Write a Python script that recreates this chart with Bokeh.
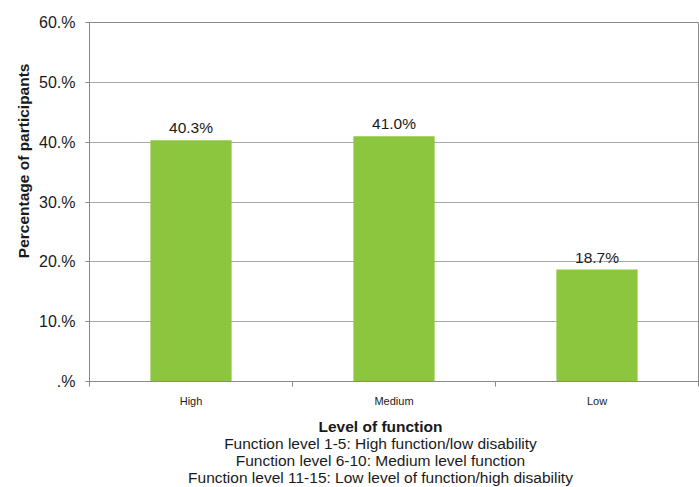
import math
from bokeh.plotting import figure
from bokeh.layouts import column, row
from bokeh.models import Range1d, FixedTicker, ColumnDataSource, LabelSet
from bokeh.core.properties import value
from bokeh.embed import file_html
from bokeh.resources import INLINE

categories = ["High", "Medium", "Low"]
values = [40.3, 41.0, 18.7]
value_labels = ["40.3%", "41.0%", "18.7%"]
y_ticks = [0, 10, 20, 30, 40, 50, 60]
y_tick_labels = [".%", "10.%", "20.%", "30.%", "40.%", "50.%", "60.%"]
x_title = "Level of function"
y_title = "Percentage of participants"
captions = [
    "Function level 1-5: High function/low disability",
    "Function level 6-10: Medium level function",
    "Function level 11-15: Low level of function/high disability",
]

FONT = "Liberation Sans"
AXIS_GRAY = "#898989"
GRID_GRAY = "#A8A8A8"
GREEN = "#8CC63F"
TEXT = "#1a1a1a"

W, H = 699, 487
LEFT_W = 36
TOP_H = 410


def blank(fig):
    fig.axis.visible = False
    fig.grid.visible = False
    fig.outline_line_color = None
    fig.background_fill_color = "white"
    fig.border_fill_color = "white"


# ---- main chart ----
xs = [i + 0.5 for i in range(len(categories))]
src = ColumnDataSource(dict(x=xs, top=values, label=value_labels))

p = figure(width=W - LEFT_W, height=TOP_H, output_backend="svg", toolbar_location=None,
           x_range=Range1d(0, len(categories)), y_range=Range1d(0, 60),
           min_border_left=86 - LEFT_W, min_border_right=1, min_border_top=22,
           min_border_bottom=TOP_H - 381)
p.background_fill_color = "white"
p.border_fill_color = "white"
p.outline_line_color = AXIS_GRAY

p.vbar(x="x", top="top", width=0.4, source=src, fill_color=GREEN, line_color=None)

p.add_layout(LabelSet(x="x", y="top", text="label", source=src, text_align="center",
                      text_baseline="bottom", y_offset=4, text_font_size="15.5px",
                      text_font=value(FONT), text_color=TEXT))

p.yaxis.ticker = FixedTicker(ticks=y_ticks)
p.yaxis.major_label_overrides = {t: l for t, l in zip(y_ticks, y_tick_labels)}
p.yaxis.major_label_text_font = FONT
p.yaxis.major_label_text_font_size = "16px"
p.yaxis.major_label_text_color = TEXT
p.yaxis.axis_line_color = AXIS_GRAY
p.yaxis.major_tick_line_color = AXIS_GRAY
p.yaxis.major_tick_in = 0
p.yaxis.major_tick_out = 4
p.yaxis.minor_tick_line_color = None
p.yaxis.major_label_standoff = 10

p.xaxis.ticker = FixedTicker(ticks=xs, minor_ticks=list(range(len(categories) + 1)))
p.xaxis.major_label_overrides = {x: c for x, c in zip(xs, categories)}
p.xaxis.major_label_text_font = FONT
p.xaxis.major_label_text_font_size = "11px"
p.xaxis.major_label_text_color = TEXT
p.xaxis.axis_line_color = AXIS_GRAY
p.xaxis.major_tick_line_color = None
p.xaxis.minor_tick_line_color = AXIS_GRAY
p.xaxis.minor_tick_in = 0
p.xaxis.minor_tick_out = 5
p.xaxis.major_label_standoff = 7

p.xgrid.grid_line_color = None
p.ygrid.ticker = FixedTicker(ticks=y_ticks)
p.ygrid.grid_line_color = GRID_GRAY

# ---- y-axis title panel (pixel coordinates, y measured upward) ----
yfig = figure(width=LEFT_W, height=TOP_H, output_backend="svg", toolbar_location=None,
              x_range=Range1d(0, LEFT_W), y_range=Range1d(0, TOP_H),
              min_border=0)
blank(yfig)
yfig.text(x=[23], y=[TOP_H - 158], text=[y_title], angle=math.pi / 2,
          text_align="center", text_baseline="middle", text_font=value(FONT),
          text_font_size="15.5px", text_font_style="bold", text_color=TEXT)

# ---- x-axis title and caption panel ----
CAP_H = H - TOP_H
SHIFT = 6.5
cap = figure(width=W, height=CAP_H, output_backend="svg", toolbar_location=None,
             x_range=Range1d(0, W), y_range=Range1d(0, CAP_H), min_border=0)
blank(cap)
cap.text(x=[380], y=[H - 432 + SHIFT], text=[x_title], text_align="center",
         text_baseline="alphabetic", text_font=value(FONT), text_font_size="15.5px",
         text_font_style="bold", text_color=TEXT)
cap_y = [H - (449 + 17.25 * i) + SHIFT for i in range(len(captions))]
cap.text(x=[380] * len(captions), y=cap_y, text=captions, text_align="center",
         text_baseline="alphabetic", text_font=value(FONT), text_font_size="15.5px",
         text_color=TEXT)

layout = column(row(yfig, p, spacing=0), cap, spacing=0)
open("out.html", "w").write(file_html(layout, INLINE))
